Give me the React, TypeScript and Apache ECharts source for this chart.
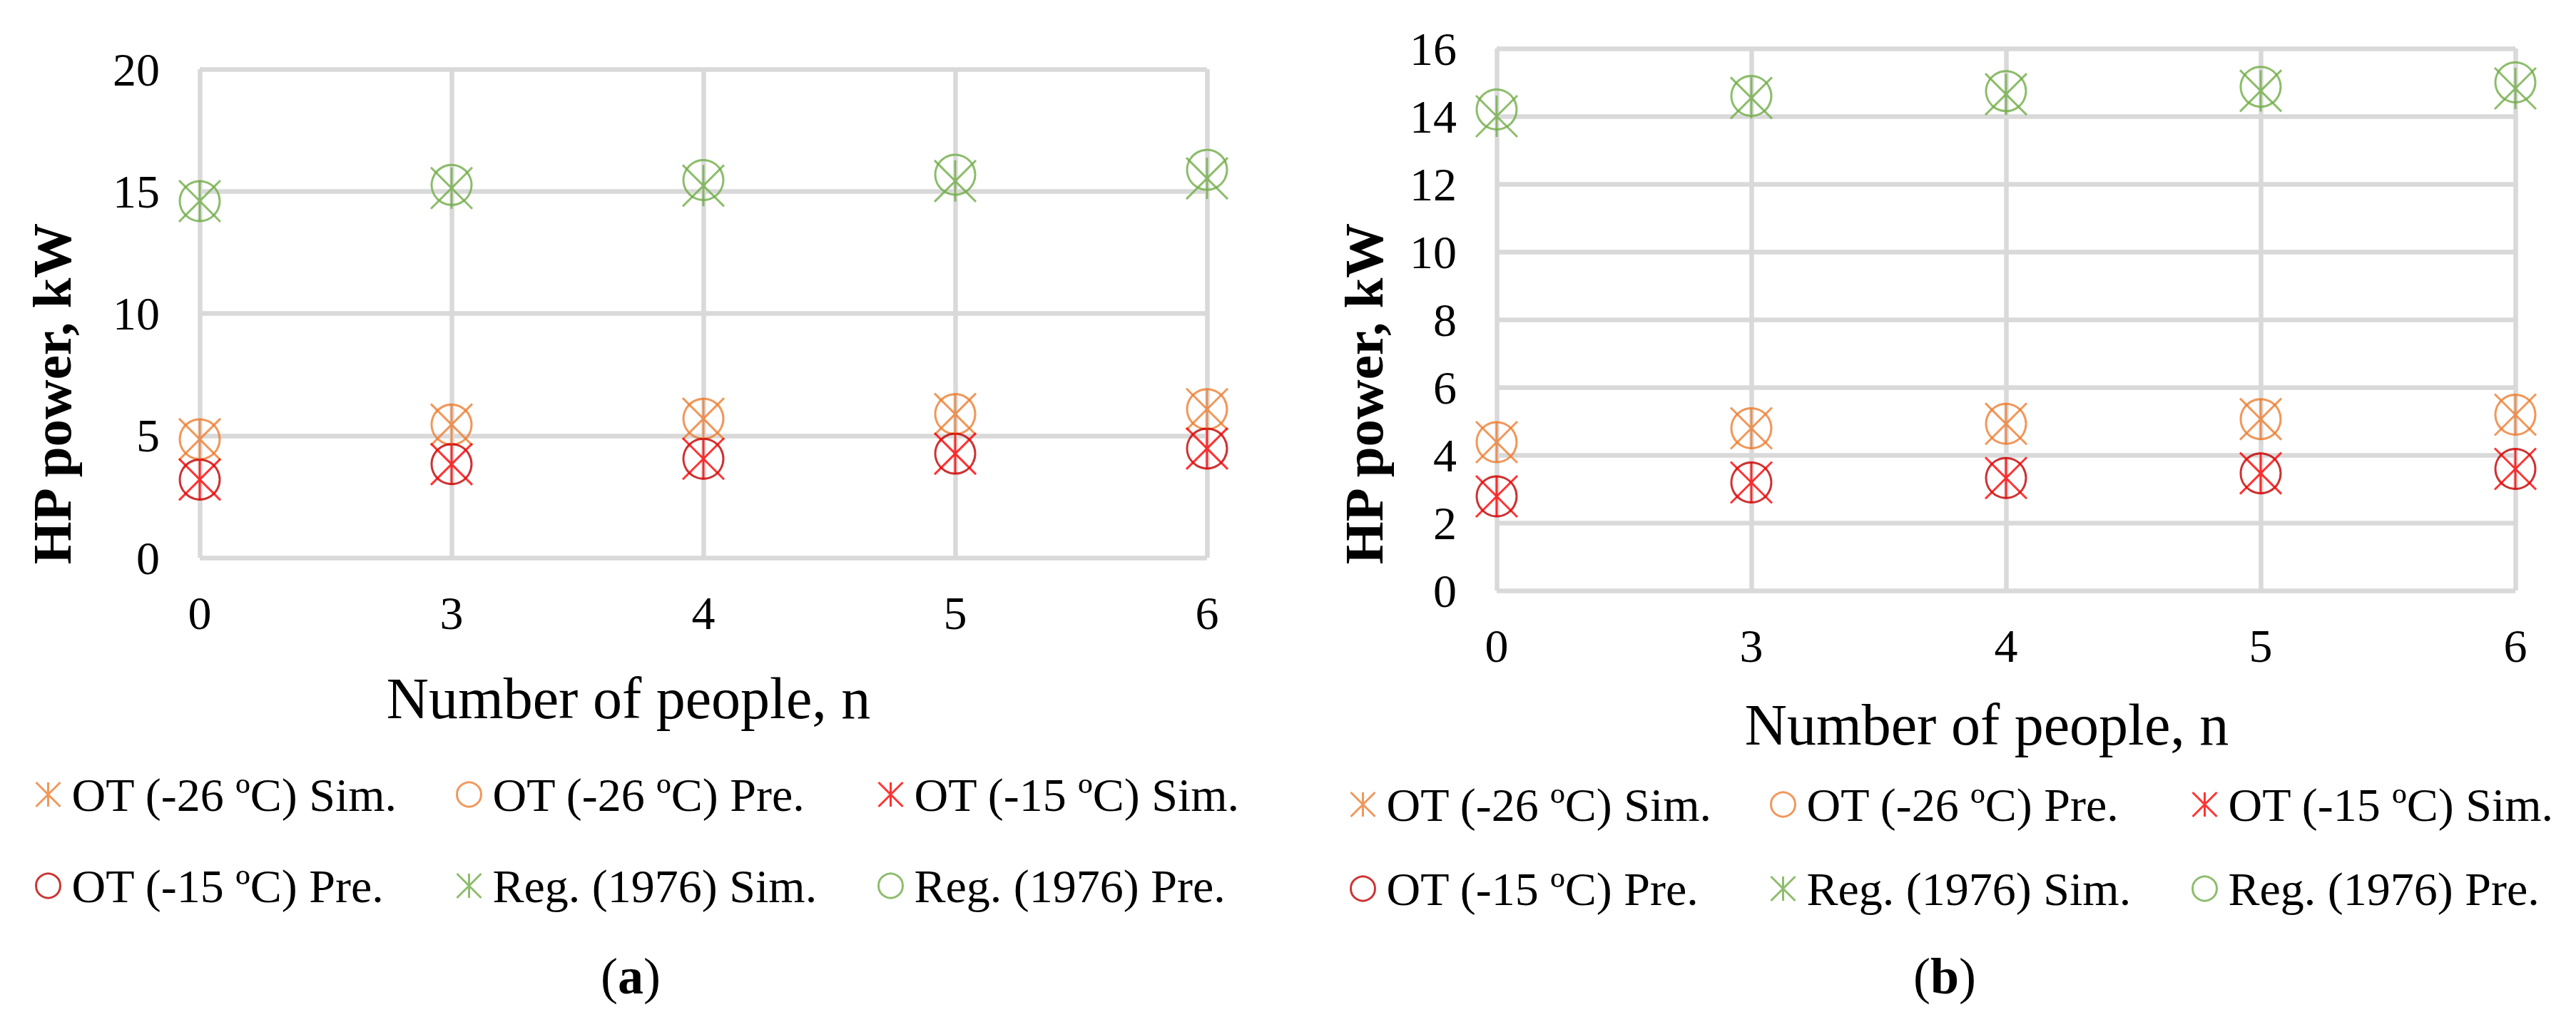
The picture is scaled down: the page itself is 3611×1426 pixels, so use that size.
import { useEffect, useRef } from "react";
import * as echarts from "echarts";

const people = ["0", "3", "4", "5", "6"];
const seriesNames = [
  "OT (-26 ºC) Sim.",
  "OT (-26 ºC) Pre.",
  "OT (-15 ºC) Sim.",
  "OT (-15 ºC) Pre.",
  "Reg. (1976) Sim.",
  "Reg. (1976) Pre.",
];

// panel (a)
const aColdSim = [4.85, 5.45, 5.69, 5.88, 6.08];
const aColdPre = [4.85, 5.45, 5.69, 5.88, 6.08];
const aMildSim = [3.2, 3.83, 4.05, 4.26, 4.47];
const aMildPre = [3.2, 3.83, 4.05, 4.26, 4.47];
const aRegSim = [14.6, 15.13, 15.23, 15.42, 15.53];
const aRegPre = [14.6, 15.26, 15.46, 15.68, 15.88];

// panel (b)
const bColdSim = [4.38, 4.79, 4.92, 5.06, 5.19];
const bColdPre = [4.38, 4.79, 4.92, 5.06, 5.19];
const bMildSim = [2.78, 3.19, 3.32, 3.46, 3.59];
const bMildPre = [2.78, 3.19, 3.32, 3.46, 3.59];
const bRegSim = [14.0, 14.54, 14.65, 14.75, 14.82];
const bRegPre = [14.2, 14.6, 14.74, 14.87, 15.0];

const colors = ["#ED7D31", "#ED7D31", "#FF0000", "#C00000", "#70AD47", "#70AD47"];
const STAR = "path://M0 0L10 10M10 0L0 10M5 0L5 10";
const FONT = "'Liberation Serif', 'Times New Roman', serif";

type Panel = {
  label: string;
  data: number[][];
  yMax: number;
  yStep: number;
  grid: { left: number; top: number; width: number; height: number };
  yTitleX: number;
  xTitle: { x: number; y: number };
  tag: { x: number; y: number };
  legendCols: number[];
  legendRows: number[];
};

const panelA: Panel = {
  label: "a",
  data: [aColdSim, aColdPre, aMildSim, aMildPre, aRegSim, aRegPre],
  yMax: 20,
  yStep: 5,
  grid: { left: 280, top: 97, width: 1412, height: 685 },
  yTitleX: 73,
  xTitle: { x: 881, y: 979 },
  tag: { x: 884, y: 1369 },
  legendCols: [48, 638, 1229],
  legendRows: [1081, 1209],
};

const panelB: Panel = {
  label: "b",
  data: [bColdSim, bColdPre, bMildSim, bMildPre, bRegSim, bRegPre],
  yMax: 16,
  yStep: 2,
  grid: { left: 292, top: 68, width: 1428, height: 760 },
  yTitleX: 106,
  xTitle: { x: 979, y: 1016 },
  tag: { x: 920, y: 1369 },
  legendCols: [85, 674, 1265],
  legendRows: [1095, 1213],
};

const buildOption = (p: Panel) => {
  const isSim = (i: number) => i % 2 === 0;
  const itemStyle = (i: number) => ({ color: "none", borderColor: colors[i], borderWidth: 3 });

  return {
    animation: false,
    backgroundColor: "#fff",
    textStyle: { fontFamily: FONT },
    grid: p.grid,
    xAxis: {
      type: "category",
      data: people,
      boundaryGap: false,
      axisLine: { show: false },
      axisTick: { show: false },
      axisLabel: { fontSize: 66, color: "#000", margin: 44, fontFamily: FONT },
      splitLine: { show: true, lineStyle: { color: "#D9D9D9", width: 6.5 } },
    },
    yAxis: {
      type: "value",
      min: 0,
      max: p.yMax,
      interval: p.yStep,
      axisLine: { show: false },
      axisTick: { show: false },
      axisLabel: { fontSize: 66, color: "#000", margin: 56, fontFamily: FONT },
      splitLine: { show: true, lineStyle: { color: "#D9D9D9", width: 6.5 } },
    },
    legend: seriesNames.map((name, i) => ({
      data: [{ name, icon: isSim(i) ? STAR : "circle", itemStyle: itemStyle(i) }],
      left: p.legendCols[i % 3],
      top: p.legendRows[Math.floor(i / 3)],
      padding: 0,
      itemWidth: 56,
      itemHeight: 34,
      selectedMode: false,
      textStyle: { fontSize: 66, color: "#000", fontFamily: FONT },
    })),
    series: seriesNames.map((name, i) => ({
      type: "scatter",
      name,
      data: p.data[i],
      symbol: isSim(i) ? STAR : "circle",
      symbolSize: isSim(i) ? 58 : 56,
      itemStyle: itemStyle(i),
      z: isSim(i) ? 3 : 2,
    })),
    graphic: [
      {
        type: "text",
        x: p.yTitleX,
        y: 552,
        rotation: Math.PI / 2,
        style: {
          text: "HP power, kW",
          fontSize: 77,
          fontWeight: "bold",
          fontFamily: FONT,
          fill: "#000",
          textAlign: "center",
          textVerticalAlign: "middle",
        },
      },
      {
        type: "text",
        x: p.xTitle.x,
        y: p.xTitle.y,
        style: {
          text: "Number of people, n",
          fontSize: 82,
          fontFamily: FONT,
          fill: "#000",
          textAlign: "center",
          textVerticalAlign: "middle",
        },
      },
      {
        type: "text",
        x: p.tag.x,
        y: p.tag.y,
        style: {
          text: "{p|(}{b|" + p.label + "}{p|)}",
          fontSize: 72,
          fontFamily: FONT,
          fill: "#000",
          textAlign: "center",
          textVerticalAlign: "middle",
          rich: {
            p: { fontSize: 72, fontFamily: FONT, fill: "#000" },
            b: { fontSize: 72, fontFamily: FONT, fontWeight: "bold", fill: "#000" },
          },
        },
      },
    ],
  };
};

const ChartPanel = ({ panel, width }: { panel: Panel; width: number }) => {
  const chartRef = useRef<HTMLDivElement>(null);

  useEffect(() => {
    if (!chartRef.current) return;
    const chart = echarts.init(chartRef.current, null, { renderer: "svg" });
    chart.setOption(buildOption(panel) as any);
    return () => {
      chart.dispose();
    };
  }, [panel]);

  return <div ref={chartRef} style={{ width: width + "px", height: "1426px" }}></div>;
};

const App = () => {
  return (
    <div
      style={{
        position: "absolute",
        left: 0,
        top: 0,
        width: "3611px",
        height: "1426px",
        display: "flex",
        background: "#fff",
      }}
    >
      <ChartPanel panel={panelA} width={1806} />
      <ChartPanel panel={panelB} width={1805} />
    </div>
  );
};

export default App;
